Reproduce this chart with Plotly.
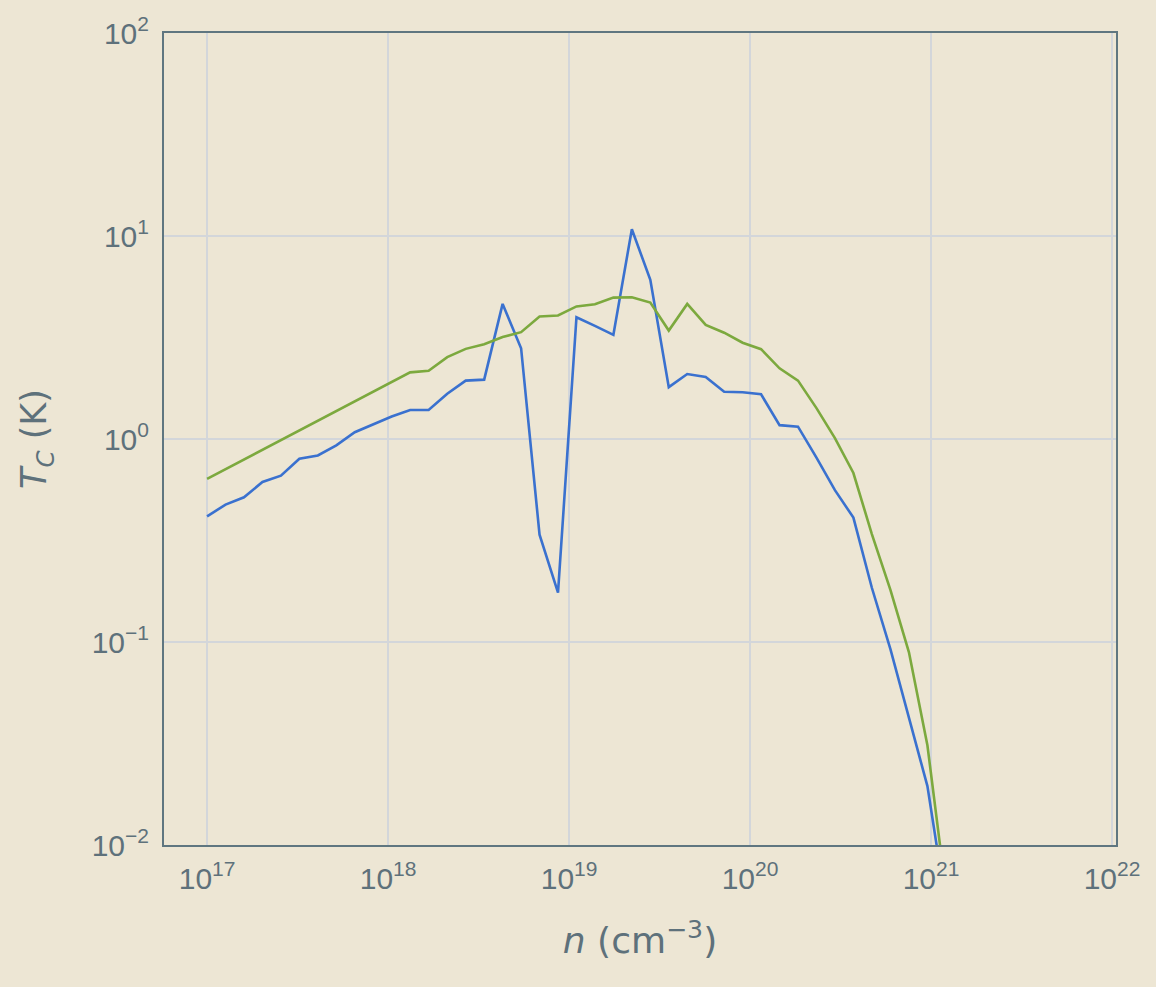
import plotly.graph_objects as go

# log10 of carrier density n (cm^-3) at each sample
log_n = [17.000, 17.102, 17.204, 17.306, 17.408, 17.510, 17.612, 17.714, 17.816, 17.918,
         18.020, 18.122, 18.224, 18.327, 18.429, 18.531, 18.633, 18.735, 18.837, 18.939,
         19.041, 19.143, 19.245, 19.347, 19.449, 19.551, 19.653, 19.755, 19.857, 19.959,
         20.061, 20.163, 20.265, 20.367, 20.469, 20.571, 20.673, 20.776, 20.878, 20.980,
         21.082]

# Tc (K) - blue series
tc_blue = [0.416, 0.475, 0.516, 0.614, 0.66, 0.80, 0.83, 0.93, 1.08, 1.18,
           1.29, 1.39, 1.39, 1.67, 1.94, 1.96, 4.63, 2.80, 0.338, 0.175,
           3.98, 3.61, 3.26, 10.8, 6.08, 1.80, 2.09, 2.02, 1.71, 1.70,
           1.66, 1.17, 1.15, 0.81, 0.56, 0.41, 0.185, 0.092, 0.043, 0.0195,
           0.0051]

# Tc (K) - green series
tc_green = [0.636, 0.71, 0.79, 0.885, 0.99, 1.10, 1.23, 1.38, 1.54, 1.72,
            1.92, 2.13, 2.17, 2.53, 2.78, 2.93, 3.18, 3.36, 4.01, 4.06,
            4.50, 4.61, 4.97, 4.99, 4.70, 3.42, 4.63, 3.65, 3.34, 2.98,
            2.77, 2.23, 1.94, 1.42, 1.01, 0.68, 0.34, 0.18, 0.089, 0.031,
            0.0059]

x_tick_exp = [17, 18, 19, 20, 21, 22]
y_tick_exp = [-2, -1, 0, 1, 2]

def pow_label(e):
    s = str(e).replace("-", "\u2212")
    return f"10<sup>{s}</sup>"

n_vals = [10.0 ** e for e in log_n]

BG = "#EDE6D4"
AXIS = "#5F7680"
TXT = "#5E717B"
GRID = "#D3D6DA"

fig = go.Figure()
fig.add_trace(go.Scatter(x=n_vals, y=tc_blue, mode="lines",
                         line=dict(color="#3A71CF", width=2.6), showlegend=False))
fig.add_trace(go.Scatter(x=n_vals, y=tc_green, mode="lines",
                         line=dict(color="#7CA93E", width=2.6), showlegend=False))

fig.update_layout(
    width=1156, height=987,
    paper_bgcolor=BG, plot_bgcolor=BG,
    margin=dict(l=164, r=40, t=33, b=142, autoexpand=False),
    font=dict(family="DejaVu Sans", color=TXT, size=28),
)
fig.update_xaxes(
    type="log", range=[16.762, 22.022],
    tickvals=[10.0 ** e for e in x_tick_exp],
    ticktext=[pow_label(e) for e in x_tick_exp],
    showgrid=True, gridcolor=GRID, gridwidth=1.5,
    showline=True, linecolor=AXIS, linewidth=2, mirror=True,
    ticks="", zeroline=False, ticklabelstandoff=6,
    tickfont=dict(family="Liberation Sans", size=30, color=TXT),
    title=dict(text="<i>n</i> (cm<sup>\u22123</sup>)",
               font=dict(family="DejaVu Sans", size=36, color=TXT), standoff=34),
)
fig.update_yaxes(
    type="log", range=[-2, 2],
    tickvals=[10.0 ** e for e in y_tick_exp],
    ticktext=[pow_label(e) for e in y_tick_exp],
    showgrid=True, gridcolor=GRID, gridwidth=1.5,
    showline=True, linecolor=AXIS, linewidth=2, mirror=True,
    ticks="", zeroline=False, ticklabelstandoff=7,
    tickfont=dict(family="Liberation Sans", size=30, color=TXT),
    title=dict(text="<i>T</i><sub><i>C</i></sub> (K)",
               font=dict(family="DejaVu Sans", size=35, color=TXT), standoff=34),
)

fig.write_html(
    "out.html",
    config={"displayModeBar": False},
    post_script="document.body.style.margin='0';document.body.style.background='#EDE6D4';",
)
